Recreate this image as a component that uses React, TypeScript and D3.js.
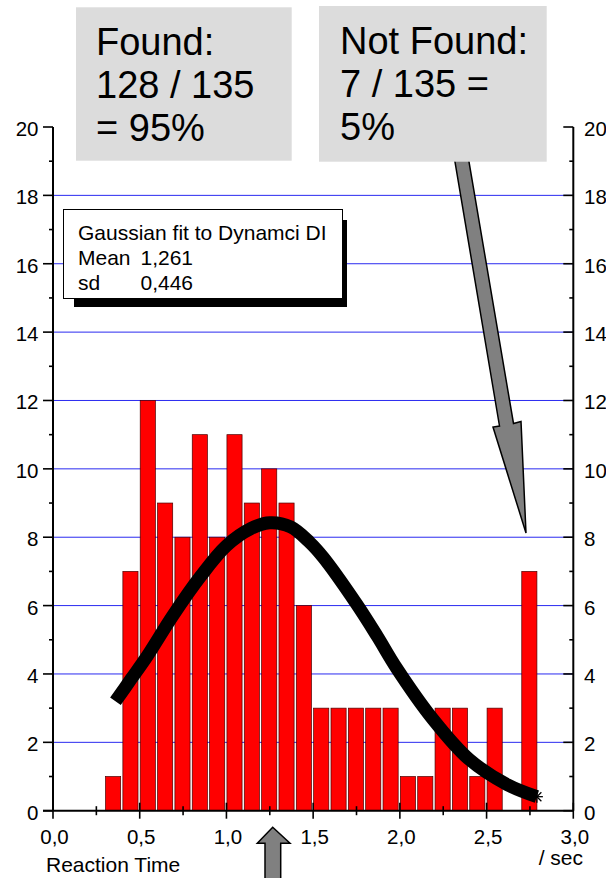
import * as d3 from 'd3';

// histogram of reaction times (bin start, count)
const binStart = [0.3, 0.4, 0.5, 0.6, 0.7, 0.8, 0.9, 1.0, 1.1, 1.2, 1.3, 1.4, 1.5, 1.6, 1.7, 1.8, 1.9, 2.0, 2.1, 2.2, 2.3, 2.4, 2.5, 2.7];
const counts = [1, 7, 12, 9, 8, 11, 8, 11, 9, 10, 9, 6, 3, 3, 3, 3, 3, 1, 1, 3, 3, 1, 3, 7];
const binWidth = 0.1;

// gaussian fit curve
const fitX = [0.36, 0.45, 0.54, 0.69, 0.85, 1.0, 1.14, 1.25, 1.37, 1.48, 1.56, 1.75, 1.87, 1.98, 2.19, 2.4, 2.62, 2.79];
const fitY = [3.2, 3.85, 4.5, 5.7, 6.85, 7.75, 8.25, 8.42, 8.3, 7.85, 7.4, 6.05, 5.1, 4.18, 2.68, 1.5, 0.76, 0.41];

const yMajor = [0, 2, 4, 6, 8, 10, 12, 14, 16, 18, 20];
const yMinor = [1, 3, 5, 7, 9, 11, 13, 15, 17, 19];
const xMajor = [0, 0.5, 1.0, 1.5, 2.0, 2.5, 3.0];
const xMinor = [0.25, 0.75, 1.25, 1.75, 2.25, 2.75];

const legendLines = ['Gaussian fit to Dynamci DI', 'Mean', 'sd'];
const legendValues = ['', '1,261', '0,446'];
const foundText = ['Found:', '128 / 135', '= 95%'];
const notFoundText = ['Not Found:', '7 / 135 =', '5%'];

const W = 606;
const H = 878;
const FONT = '"Liberation Sans", Arial, sans-serif';

export default function App() {
  const x = d3.scaleLinear().domain([0, 3]).range([53, 573.3]);
  const y = d3.scaleLinear().domain([0, 20]).range([810.7, 127]);
  const fmt = (v: number) => d3.format('.1f')(v).replace('.', ',');

  const line = d3.line<number>()
    .x((_, i) => x(fitX[i]))
    .y((d) => y(d))
    .curve(d3.curveCatmullRom.alpha(0.5));

  const x0 = x(0), x1 = x(3), yb = y(0);
  const endX = x(fitX[fitX.length - 1]);
  const endY = y(fitY[fitY.length - 1]);

  return (
    <svg width={W} height={H} style={{ position: 'absolute', left: 0, top: 0, background: '#fff' }} fontFamily={FONT}>
      {/* grid */}
      {yMajor.filter(v => v > 0 && v < 20).map(v => (
        <line key={'g' + v} x1={x0} x2={x1} y1={y(v)} y2={y(v)} stroke="#2a2af0" strokeWidth={1} />
      ))}

      {/* bars */}
      {binStart.map((b, i) => (
        <rect key={'b' + i} x={x(b) + 0.5} y={y(counts[i])} width={x(b + binWidth) - x(b) - 2.2}
          height={yb - y(counts[i])} fill="#ff0000" stroke="#4a0000" strokeWidth={0.7} />
      ))}

      {/* axes */}
      <line x1={x0} x2={x0} y1={y(20)} y2={yb} stroke="#000" strokeWidth={2} />
      <line x1={x1} x2={x1} y1={y(20)} y2={yb} stroke="#000" strokeWidth={2} />
      <line x1={x0 - 10} x2={x1} y1={yb} y2={yb} stroke="#000" strokeWidth={2} />
      {yMajor.map(v => (
        <g key={'ym' + v}>
          <line x1={x0 - 10} x2={x0} y1={y(v)} y2={y(v)} stroke="#000" strokeWidth={1.6} />
          <line x1={x1 - 10} x2={x1} y1={y(v)} y2={y(v)} stroke="#000" strokeWidth={1.6} />
          <text x={38.5} y={y(v) + 9} fontSize={20.5} textAnchor="end">{v}</text>
          <text x={584} y={y(v) + 9} fontSize={20.5}>{v}</text>
        </g>
      ))}
      {yMinor.map(v => (
        <g key={'yn' + v}>
          <line x1={x0 - 4} x2={x0} y1={y(v)} y2={y(v)} stroke="#000" strokeWidth={1.6} />
          <line x1={x1 - 4} x2={x1} y1={y(v)} y2={y(v)} stroke="#000" strokeWidth={1.6} />
        </g>
      ))}
      {xMajor.map(v => (
        <g key={'xm' + v}>
          <line x1={x(v)} x2={x(v)} y1={yb - 8} y2={yb + 8} stroke="#000" strokeWidth={1.6} />
          <text x={x(v) + 1.5} y={844.3} fontSize={20.5} textAnchor="middle">{fmt(v)}</text>
        </g>
      ))}
      {xMinor.map(v => (
        <line key={'xn' + v} x1={x(v)} x2={x(v)} y1={yb - 4.5} y2={yb + 4.5} stroke="#000" strokeWidth={1.6} />
      ))}
      <text x={46} y={872} fontSize={21}>Reaction Time</text>
      <text x={583} y={865} fontSize={21} textAnchor="end">/ sec</text>

      {/* fit curve */}
      <path d={line(fitY) || ''} fill="none" stroke="#000" strokeWidth={13} />
      <g stroke="#000" strokeWidth={1.3}>
        <line x1={endX - 6} x2={endX + 6} y1={endY} y2={endY} />
        <line x1={endX} x2={endX} y1={endY - 6} y2={endY + 6} />
        <line x1={endX - 4.5} x2={endX + 4.5} y1={endY - 4.5} y2={endY + 4.5} />
        <line x1={endX - 4.5} x2={endX + 4.5} y1={endY + 4.5} y2={endY - 4.5} />
      </g>

      {/* legend */}
      <rect x={74} y={220} width={273} height={87} fill="#000" />
      <rect x={63.5} y={209.5} width={279} height={89} fill="#fff" stroke="#000" strokeWidth={1} />
      {legendLines.map((t, i) => (
        <g key={'l' + i}>
          <text x={78} y={239.5 + i * 25} fontSize={21}>{t}</text>
          <text x={140.5} y={239.5 + i * 25} fontSize={21}>{legendValues[i]}</text>
        </g>
      ))}

      {/* arrow to the not-found bar */}
      <polygon points="453,150 467,150 513.5,423.5 521,421.5 526,533 493,427 499.5,426"
        fill="#808080" stroke="#000" strokeWidth={1.5} strokeLinejoin="miter" />
      {/* arrow at the mean */}
      <polygon points="272.7,827.3 290,843.3 280.7,843.3 280.7,882 265,882 265,843.3 257.3,843.3"
        fill="#808080" stroke="#000" strokeWidth={1.5} />

      {/* annotation boxes */}
      <rect x={76} y={7.3} width={215.7} height={153.4} fill="#dcdcdc" />
      {foundText.map((t, i) => (
        <text key={'f' + i} x={96} y={55 + i * 43} fontSize={38}>{t}</text>
      ))}
      <rect x={319} y={6} width={227.7} height={155.7} fill="#dcdcdc" />
      {notFoundText.map((t, i) => (
        <text key={'n' + i} x={340} y={53.5 + i * 43.3} fontSize={38}>{t}</text>
      ))}
    </svg>
  );
}
